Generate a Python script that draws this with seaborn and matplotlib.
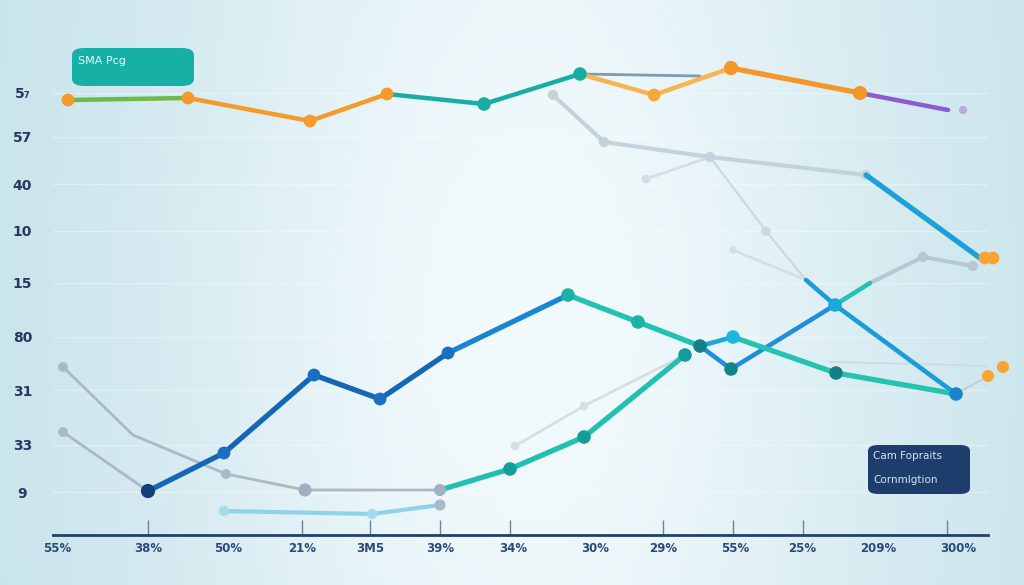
import numpy as np
import matplotlib
matplotlib.use("Agg")
import matplotlib.pyplot as plt
from matplotlib.patches import FancyBboxPatch
import seaborn as sns

sns.set_theme(style="white")
plt.rcParams['font.family'] = ['DejaVu Sans']

# ---------------- data ----------------
x_tick_labels = ["55%", "38%", "50%", "21%", "3M5", "39%", "34%", "30%", "29%", "55%", "25%", "209%", "300%"]
x_label_pos = [5.7, 14.8, 22.8, 30.2, 37.0, 44.0, 51.3, 59.5, 66.3, 73.5, 80.2, 87.8, 95.8]
x_minor_pos = [14.8, 30.2, 37.0, 44.0, 51.0, 66.3, 73.3, 80.3, 94.7]
y_tick_labels = ["9", "33", "31", "80", "15", "10", "40", "57", "5\u2087"]
y_tick_pos = [0.0, 0.94, 2.04, 3.1, 4.18, 5.22, 6.16, 7.1, 7.98]

# upper series
green_x = [6.8, 18.8];                 green_y = [7.84, 7.88]
orange1_x = [18.8, 31.0, 38.7];        orange1_y = [7.88, 7.42, 7.96]
teal_top_x = [38.7, 48.4, 58.0];       teal_top_y = [7.96, 7.76, 8.36]
slate_x = [58.0, 70.0];                slate_y = [8.36, 8.32]
lorange_x = [58.0, 65.4, 73.1];        lorange_y = [8.36, 7.94, 8.48]
orange2_x = [73.1, 86.0];              orange2_y = [8.48, 7.98]
purple_x = [86.0, 94.8];               purple_y = [7.98, 7.64]
purple_end_x = [96.3];                 purple_end_y = [7.64]

# faint grey series (upper right)
grey_a_x = [55.3, 60.4, 71.0, 86.6];   grey_a_y = [7.94, 7.0, 6.7, 6.34]
grey_b_x = [64.6, 71.0];               grey_b_y = [6.26, 6.7]
grey_c_x = [71.0, 76.6, 80.6];         grey_c_y = [6.7, 5.22, 4.24]
grey_d_x = [73.3, 80.6];               grey_d_y = [4.84, 4.24]

# blue series right
blue_r_x = [86.6, 98.0];               blue_r_y = [6.34, 4.68]
blue_r_end_x = [98.5, 99.3];           blue_r_end_y = [4.68, 4.68]
blue_x_x = [80.6, 83.5, 95.6];         blue_x_y = [4.24, 3.74, 1.96]
blue_up_x = [70.0, 73.1, 83.5];        blue_up_y = [2.92, 2.46, 3.74]
teal_up_x = [83.5, 87.0];              teal_up_y = [3.74, 4.18]
grey_up_x = [87.0, 92.3, 97.3];        grey_up_y = [4.18, 4.7, 4.52]

# main blue / teal
dblue_x = [14.8, 22.4, 31.4, 38.0, 44.8]; dblue_y = [0.02, 0.78, 2.34, 1.86, 2.78]
mblue_x = [44.8, 56.8];                mblue_y = [2.78, 3.94]
teal_mid_x = [56.8, 63.8, 70.0];       teal_mid_y = [3.94, 3.4, 2.92]
blink_x = [70.0, 73.3];                blink_y = [2.92, 3.1]
teal_end_x = [73.3, 83.6, 95.6];       teal_end_y = [3.1, 2.38, 1.96]
teal_low_x = [44.0, 51.0, 58.4, 68.5]; teal_low_y = [0.04, 0.46, 1.1, 2.74]

# left grey / light blue
grey_l1_x = [6.3, 13.3, 22.6, 30.5, 44.0]; grey_l1_y = [2.5, 1.14, 0.36, 0.04, 0.04]
grey_l2_x = [6.3, 14.8];               grey_l2_y = [1.2, 0.02]
lblue_x = [22.4, 37.2, 44.0];          lblue_y = [-0.38, -0.44, -0.26]
grey_m_x = [51.5, 58.4, 68.5];         grey_m_y = [0.92, 1.72, 2.74]
grey_r_x = [95.6, 98.8];               grey_r_y = [1.96, 2.32]
grey_r2_x = [83.0, 96.0, 99.0];        grey_r2_y = [2.6, 2.54, 2.5]
orange_r_x = [98.8, 100.3];            orange_r_y = [2.32, 2.5]

# ---------------- figure ----------------
fig = plt.figure(figsize=(10.24, 5.85), dpi=100)

# background gradient
bg = fig.add_axes([0, 0, 1, 1], zorder=-10)
h, w = 60, 120
xx = np.linspace(0, 1, w)[None, :]
yy = np.linspace(0, 1, h)[:, None]
c_edge = np.array([0.77, 0.885, 0.915])
c_mid = np.array([0.95, 0.98, 0.99])
t = np.exp(-((xx - 0.52) / 0.38) ** 2) * (0.75 + 0.25 * np.exp(-((yy - 0.55) / 0.6) ** 2))
img = c_edge[None, None, :] * (1 - t[..., None]) + c_mid[None, None, :] * t[..., None]
bg.imshow(img, aspect='auto', extent=[0, 1, 0, 1], origin='upper')
bg.axis('off')

ax = fig.add_axes([53 / 1024, 1 - 535 / 585, 935 / 1024, 480 / 585])
ax.patch.set_alpha(0)
ax.set_xlim(5.3, 98.8)
ax.set_ylim(-0.86, 8.74)


def draw(x, y, color, lw, mk=(), mk_color=None, ms=70, alpha=1.0, z=3):
    sns.lineplot(x=x, y=y, ax=ax, color=color, lw=lw, sort=False, estimator=None,
                 zorder=z, alpha=alpha, solid_capstyle='round')
    if mk:
        sns.scatterplot(x=[x[i] for i in mk], y=[y[i] for i in mk], ax=ax,
                        color=mk_color or color, s=ms, edgecolor='none',
                        zorder=z + 0.5, alpha=alpha)


def dots(x, y, color, ms=70, z=4):
    sns.scatterplot(x=x, y=y, ax=ax, color=color, s=ms, edgecolor='none',
                    zorder=z, clip_on=False)


# faint grey lines
draw(grey_a_x, grey_a_y, "#c3d3dc", 3, mk=(0, 1, 2, 3), ms=55, z=2)
draw(grey_b_x, grey_b_y, "#d3dde3", 2, mk=(0,), ms=40, z=2)
draw(grey_c_x, grey_c_y, "#cdd8de", 1.5, mk=(1,), ms=45, z=2)
draw(grey_d_x, grey_d_y, "#d5dee3", 2, mk=(0,), ms=30, z=2)
draw(grey_l1_x, grey_l1_y, "#aab9c5", 2, mk=(0, 2, 4), ms=50, z=2)
dots([grey_l1_x[3]], [grey_l1_y[3]], "#9fb0c0", ms=90, z=2.5)
draw(grey_l2_x, grey_l2_y, "#aab9c5", 2, mk=(0,), ms=50, z=2)
draw(grey_m_x, grey_m_y, "#d6dee3", 2, mk=(0, 1), ms=40, z=2)
draw(grey_r_x, grey_r_y, "#c3ced6", 1.5, z=2)
draw(grey_r2_x, grey_r2_y, "#d0d9df", 1.2, z=2)
draw(grey_up_x, grey_up_y, "#b8c8d3", 3, mk=(1, 2), ms=55, z=2)
draw(lblue_x, lblue_y, "#8fd3e8", 3, mk=(0, 1), mk_color="#a3dcec", ms=55, z=2)
dots([lblue_x[2]], [lblue_y[2]], "#a9b9c6", ms=65, z=2.5)

# upper lines
draw(slate_x, slate_y, "#7f9bb1", 2, z=2.8)
draw(green_x, green_y, "#6cba47", 3.2, mk=(0, 1), mk_color="#f39a2c", ms=85)
draw(orange1_x, orange1_y, "#f59a2b", 3.2, mk=(1, 2), ms=85)
draw(teal_top_x, teal_top_y, "#17ada5", 3.2, mk=(1, 2), ms=95)
draw(lorange_x, lorange_y, "#f8b44e", 3.2, mk=(1,), mk_color="#f7a83a", ms=85)
draw(orange2_x, orange2_y, "#f5962a", 3.8, mk=(0, 1), ms=105)
draw(purple_x, purple_y, "#8b5cd0", 3.2)
dots(purple_end_x, purple_end_y, "#bba9d9", ms=35)

# right blue lines
draw(blue_r_x, blue_r_y, "#1ba0d8", 3.8)
dots(blue_r_end_x, blue_r_end_y, "#f7a431", ms=85)
draw(blue_x_x, blue_x_y, "#1b9bd8", 3.3, mk=(1,), mk_color="#1ba8dc", ms=95)
dots([blue_x_x[2]], [blue_x_y[2]], "#1a84cb", ms=95, z=4.5)
draw(blue_up_x, blue_up_y, "#1f8fd8", 3.3, mk=(1,), mk_color="#13858a", ms=95)
draw(teal_up_x, teal_up_y, "#28c2b2", 3.3)

# main blue / teal
draw(dblue_x, dblue_y, "#1666b6", 3.8, mk=(1, 2, 3, 4), mk_color="#1a6fc2", ms=85)
dots([dblue_x[0]], [dblue_y[0]], "#163f7a", ms=105)
draw(mblue_x, mblue_y, "#1a86d3", 3.8)
draw(teal_mid_x, teal_mid_y, "#22c1b2", 3.8, mk=(0, 1), mk_color="#1ab3a6", ms=95)
dots([teal_mid_x[2]], [teal_mid_y[2]], "#137f86", ms=95, z=4.5)
draw(blink_x, blink_y, "#1ea3dc", 3.3)
draw(teal_end_x, teal_end_y, "#25c2b0", 3.8, mk=(1,), mk_color="#137f86", ms=95)
dots([teal_end_x[0]], [teal_end_y[0]], "#1ab5e0", ms=95, z=4.5)
draw(teal_low_x, teal_low_y, "#22c0ae", 3.8, mk=(1, 2, 3), mk_color="#139c98", ms=95)
dots([teal_low_x[0]], [teal_low_y[0]], "#a0b2bf", ms=75)
dots(orange_r_x, orange_r_y, "#f7a431", ms=75)

# axes styling
for s in ["top", "right", "left"]:
    ax.spines[s].set_visible(False)
ax.spines["bottom"].set_color("#23406a")
ax.spines["bottom"].set_linewidth(2)

ax.set_yticks(y_tick_pos)
ax.set_yticklabels(y_tick_labels)
ax.tick_params(axis='y', length=0, pad=22, labelsize=10, labelcolor="#243b5e")
for lab in ax.get_yticklabels():
    lab.set_horizontalalignment('center')
    lab.set_fontweight('bold')

ax.xaxis.remove_overlapping_locs = False
ax.set_xticks(x_label_pos)
ax.set_xticklabels(x_tick_labels)
ax.tick_params(axis='x', which='major', bottom=True, length=0, pad=5, labelsize=8.5, labelcolor="#2b4a78")
ax.set_xticks(x_minor_pos, minor=True)
ax.tick_params(axis='x', which='minor', bottom=True, direction='in', length=11, width=1, color="#6f8398")
for lab in ax.get_xticklabels():
    lab.set_fontweight('semibold')

ax.yaxis.grid(True, color="white", lw=1, alpha=0.35)
ax.xaxis.grid(False)
ax.set_xlabel("")
ax.set_ylabel("")

# boxes
b1 = FancyBboxPatch((72 / 1024, 1 - 86 / 585), 122 / 1024, 38 / 585,
                    boxstyle="round,pad=0,rounding_size=0.012",
                    transform=fig.transFigure, facecolor="#17b0a6", edgecolor="none", zorder=5)
fig.patches.append(b1)
fig.text(78 / 1024, 1 - 61 / 585, "SMA Pcg", color="#e8faf8", fontsize=8, va='center', ha='left', zorder=6)

b2 = FancyBboxPatch((868 / 1024, 1 - 494 / 585), 102 / 1024, 49 / 585,
                    boxstyle="round,pad=0,rounding_size=0.01",
                    transform=fig.transFigure, facecolor="#1d3e6d", edgecolor="none", zorder=5)
fig.patches.append(b2)
fig.text(873 / 1024, 1 - 456 / 585, "Cam Fopraits", color="#d5e4f2", fontsize=7.5, va='center', ha='left', zorder=6)
fig.text(873 / 1024, 1 - 480 / 585, "Cornmlgtion", color="#d5e4f2", fontsize=7.5, va='center', ha='left', zorder=6)

fig.savefig("out.png", dpi=100)
